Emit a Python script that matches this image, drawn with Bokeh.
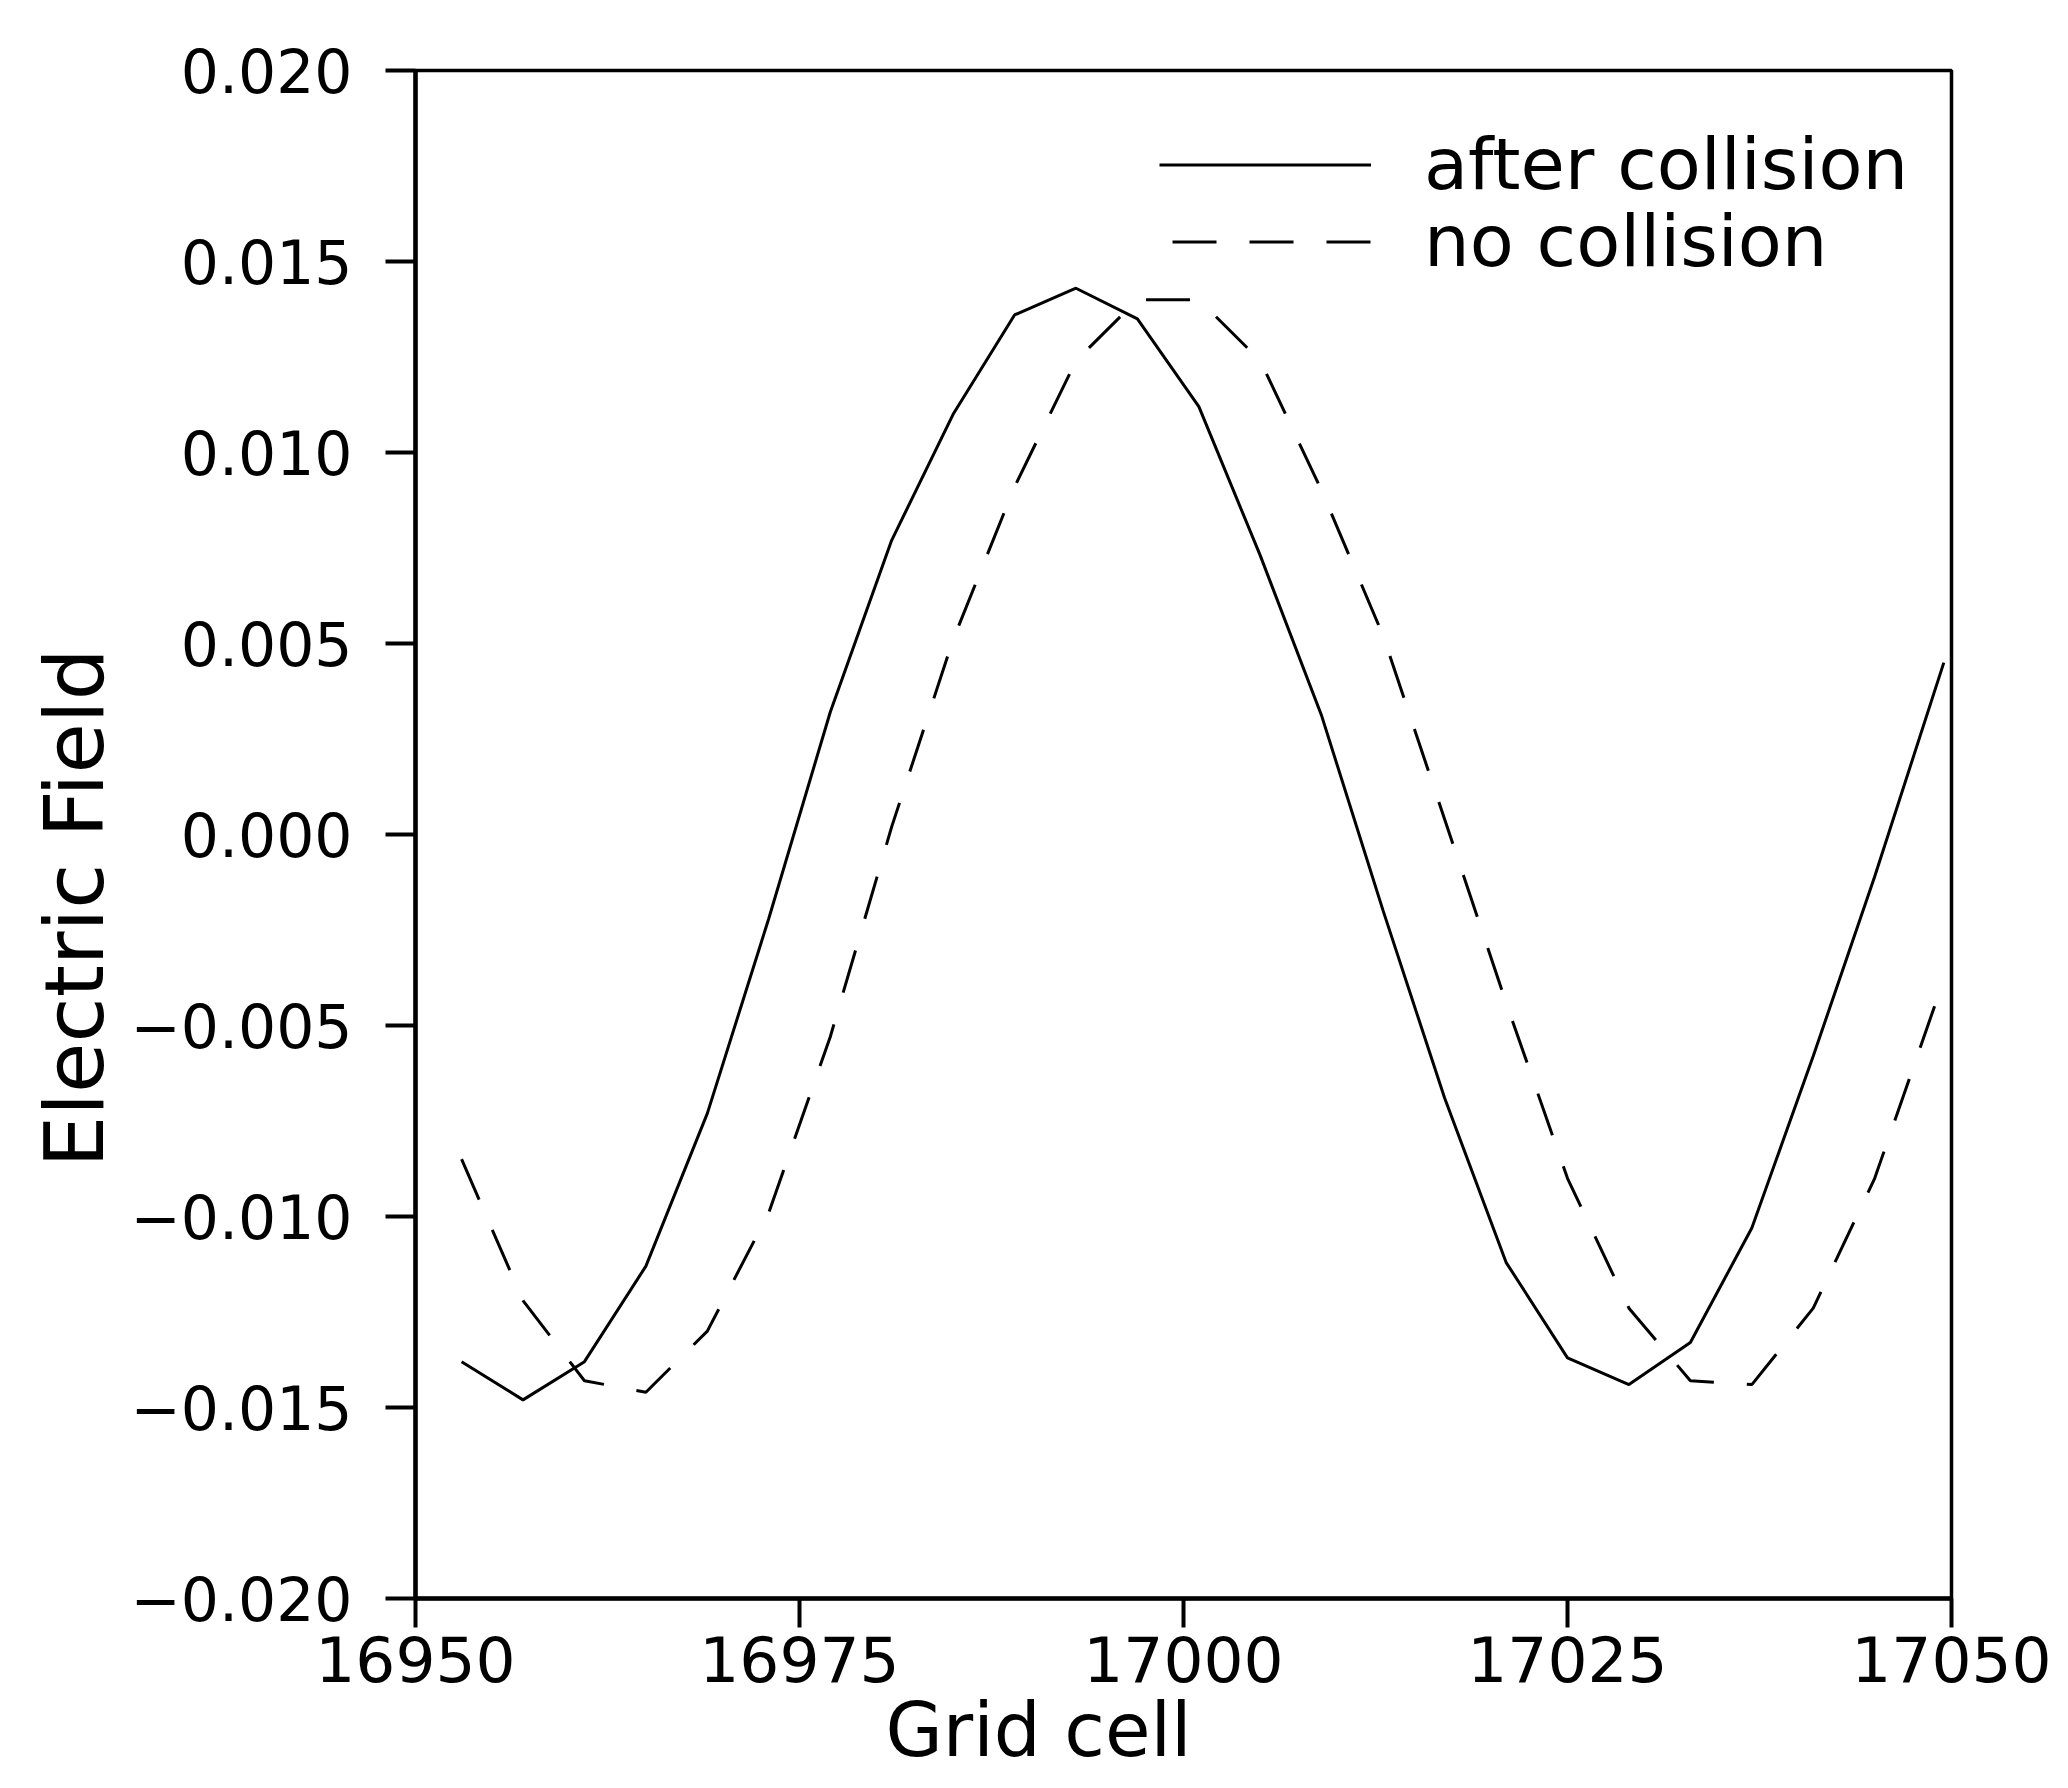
from bokeh.plotting import figure
from bokeh.models import FixedTicker, Legend, LegendItem, Range1d, Title
from bokeh.embed import file_html
from bokeh.resources import INLINE

# ---------------- data ----------------
x_after = [16953, 16957, 16961, 16965, 16969, 16973, 16977, 16981, 16985, 16989,
           16993, 16997, 17001, 17005, 17009, 17013, 17017, 17021, 17025, 17029,
           17033, 17037, 17041, 17045, 17049.5]
e_after = [-0.0138, -0.0148, -0.0138, -0.0113, -0.0073, -0.0022, 0.0032, 0.0077, 0.0110, 0.0136,
           0.0143, 0.0135, 0.0112, 0.0073, 0.0031, -0.0020, -0.0069, -0.0112, -0.0137, -0.0144,
           -0.0133, -0.0103, -0.0058, -0.0011, 0.0045]

x_none = [16953, 16957, 16961, 16965, 16969, 16973, 16977, 16981, 16985, 16989,
          16993, 16997, 17001, 17005, 17009, 17013, 17017, 17021, 17025, 17029,
          17033, 17037, 17041, 17045, 17049.5]
e_none = [-0.0085, -0.0122, -0.0143, -0.0146, -0.0130, -0.0099, -0.0053, 0.0002, 0.0051, 0.0091,
          0.0124, 0.0140, 0.0140, 0.0124, 0.0090, 0.0052, 0.0004, -0.0044, -0.0090, -0.0124,
          -0.0143, -0.0144, -0.0124, -0.0090, -0.0038]

series_labels = ["after collision", "no collision"]

x_ticks = [16950, 16975, 17000, 17025, 17050]
x_tick_labels = ["16950", "16975", "17000", "17025", "17050"]
y_ticks = [-0.020, -0.015, -0.010, -0.005, 0.0, 0.005, 0.010, 0.015, 0.020]
y_tick_labels = ["\u22120.020", "\u22120.015", "\u22120.010", "\u22120.005", "0.000",
                 "0.005", "0.010", "0.015", "0.020"]

x_title = "Grid cell"
y_title = "Electric Field"

# ---------------- figure ----------------
FONT = "DejaVu Sans"
W, H = 2052, 1772

p = figure(width=W, height=H,
           x_range=Range1d(16950, 17050), y_range=Range1d(-0.020, 0.020),
           output_backend="svg", toolbar_location=None,
           min_border_left=415, min_border_right=101,
           min_border_top=70, min_border_bottom=174)

p.grid.visible = False
p.background_fill_color = "white"
p.border_fill_color = "white"
p.outline_line_color = "black"
p.outline_line_width = 3.5

for ax in (p.xaxis[0], p.yaxis[0]):
    ax.axis_line_color = "black"
    ax.axis_line_width = 4.5
    ax.major_tick_line_color = "black"
    ax.major_tick_line_width = 4
    ax.major_tick_in = 0
    ax.minor_tick_line_color = None
    ax.major_label_text_font = FONT
    ax.major_label_text_color = "black"

p.xaxis.ticker = FixedTicker(ticks=x_ticks)
p.xaxis.major_label_overrides = dict(zip(x_ticks, x_tick_labels))
p.xaxis.major_label_text_font_size = "63px"
p.xaxis.major_tick_out = 29
p.xaxis.major_label_standoff = 8

p.yaxis.ticker = FixedTicker(ticks=y_ticks)
p.yaxis.major_label_overrides = dict(zip(y_ticks, y_tick_labels))
p.yaxis.major_label_text_font_size = "60px"
p.yaxis.major_tick_out = 30
p.yaxis.major_label_standoff = 33

r_after = p.line(x_after, e_after, line_color="black", line_width=3)
r_none = p.line(x_none, e_none, line_color="black", line_width=3, line_dash="44 33")

legend_style = dict(glyph_height=77, label_height=77, spacing=0, padding=0, margin=0,
                    label_text_font=FONT, label_text_font_size="72px",
                    label_text_color="black",
                    border_line_alpha=0, background_fill_alpha=0)
p.add_layout(Legend(items=[LegendItem(label=series_labels[0], renderers=[r_after])],
                    location=(744, 1392), glyph_width=212, label_standoff=53,
                    **legend_style))
p.add_layout(Legend(items=[LegendItem(label=series_labels[1], renderers=[r_none])],
                    location=(757, 1315), glyph_width=199, label_standoff=53,
                    **legend_style))

p.add_layout(Title(text=x_title, align="left", offset=470, standoff=0,
                   vertical_align="bottom", text_font=FONT, text_font_size="74px",
                   text_font_style="normal", text_color="black"), "below")
p.add_layout(Title(text=y_title, align="left", offset=431, standoff=11,
                   vertical_align="bottom", text_font=FONT, text_font_size="82px",
                   text_font_style="normal", text_color="black"), "left")

open("out.html", "w").write(file_html(p, INLINE))
